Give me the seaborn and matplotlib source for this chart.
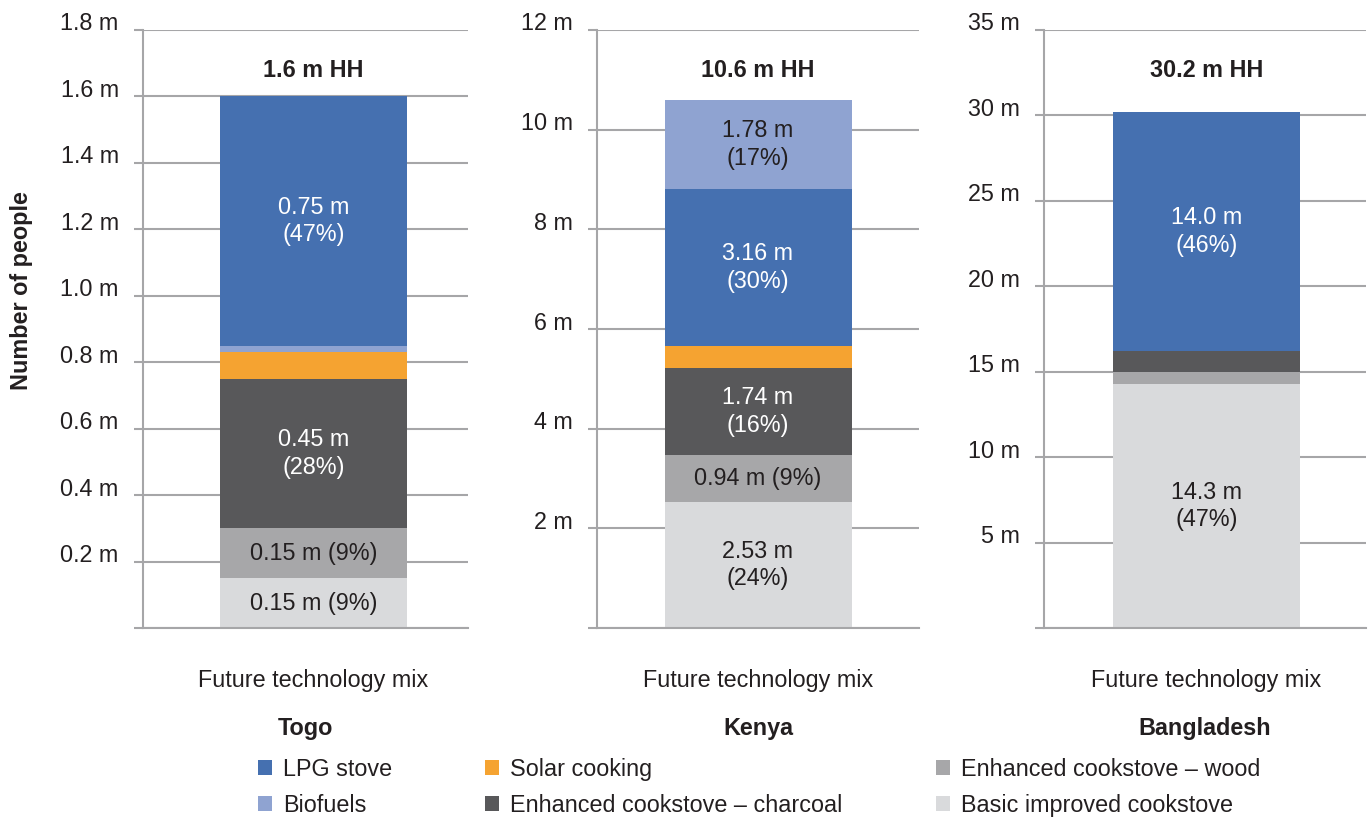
import numpy as np
import pandas as pd
import seaborn as sns
import matplotlib.pyplot as plt
from matplotlib.patches import Patch
from matplotlib.transforms import ScaledTranslation, blended_transform_factory

# ---- data -----------------------------------------------------------------
countries = ["Togo", "Kenya", "Bangladesh"]
scenario = "Future technology mix"

# segments listed bottom -> top of each stack (millions of households)
togo_stack = ["Basic improved cookstove", "Enhanced cookstove – wood",
              "Enhanced cookstove – charcoal", "Solar cooking", "Biofuels", "LPG stove"]
togo_values = [0.15, 0.15, 0.45, 0.08, 0.02, 0.75]
togo_label_lines = [1, 1, 2, 0, 0, 2]          # 0 = no label, 1 = one line, 2 = two lines

kenya_stack = ["Basic improved cookstove", "Enhanced cookstove – wood",
               "Enhanced cookstove – charcoal", "Solar cooking", "LPG stove", "Biofuels"]
kenya_values = [2.53, 0.94, 1.74, 0.44, 3.16, 1.78]
kenya_label_lines = [2, 1, 2, 0, 2, 2]

bangladesh_stack = ["Basic improved cookstove", "Enhanced cookstove – wood",
                    "Enhanced cookstove – charcoal", "LPG stove"]
bangladesh_values = [14.3, 0.7, 1.2, 14.0]
bangladesh_label_lines = [2, 0, 0, 2]

value_decimals = [2, 2, 1]

togo_ticks = [0, 0.2, 0.4, 0.6, 0.8, 1.0, 1.2, 1.4, 1.6, 1.8]
kenya_ticks = [0, 2, 4, 6, 8, 10, 12]
bangladesh_ticks = [0, 5, 10, 15, 20, 25, 30, 35]
tick_decimals = [1, 0, 0]

legend_order = ["LPG stove", "Biofuels", "Solar cooking",
                "Enhanced cookstove – charcoal", "Enhanced cookstove – wood",
                "Basic improved cookstove"]

# ---- style ----------------------------------------------------------------
colors = {
    "LPG stove": "#4570b0",
    "Biofuels": "#8fa3d1",
    "Solar cooking": "#f5a331",
    "Enhanced cookstove – charcoal": "#58585a",
    "Enhanced cookstove – wood": "#a7a7a9",
    "Basic improved cookstove": "#d9dadc",
}
white_text = {"LPG stove", "Enhanced cookstove – charcoal"}
ink = "#231f20"
rule = "#a6a6a8"
FS = 16.8

sns.set_style("white")
plt.rcParams["font.family"] = ["Liberation Sans", "DejaVu Sans"]
plt.rcParams["text.color"] = ink

W, H = 1370, 818
fig = plt.figure(figsize=(W / 100, H / 100), dpi=100)

panels = [
    (togo_stack, togo_values, togo_label_lines, togo_ticks, 143, 325, -0.025),
    (kenya_stack, kenya_values, kenya_label_lines, kenya_ticks, 597, 322, 0.0),
    (bangladesh_stack, bangladesh_values, bangladesh_label_lines, bangladesh_ticks, 1044, 322, -0.005),
]
top_px, bottom_px = 30, 628
bar_px = 187

for i, (stack, values, lines, ticks, left_px, width_px, shift) in enumerate(panels):
    ax = fig.add_axes([left_px / W, 1 - bottom_px / H, width_px / W, (bottom_px - top_px) / H])
    total = float(np.sum(values))
    tops = np.cumsum(values)
    bar_w = bar_px / width_px

    # draw cumulative bars from the top segment down so each one shows its own band
    for tech, top in reversed(list(zip(stack, tops))):
        df = pd.DataFrame({"scenario": [scenario], "households": [top]})
        sns.barplot(data=df, x="scenario", y="households", color=colors[tech],
                    saturation=1, width=bar_w, linewidth=0, ax=ax, zorder=2)

    # segment labels
    bottoms = tops - np.array(values)
    for tech, v, b, n in zip(stack, values, bottoms, lines):
        if n == 0:
            continue
        pct = round(100 * v / total)
        val = f"{v:.{value_decimals[i]}f} m"
        txt = f"{val}\n({pct}%)" if n == 2 else f"{val} ({pct}%)"
        ax.text(0, b + v / 2, txt, ha="center", va="center", fontsize=FS,
                color="white" if tech in white_text else ink, zorder=3,
                linespacing=1.25)

    # total households above the stack
    btrans = blended_transform_factory(ax.transData, ax.transAxes)
    ax.text(0, (bottom_px - 70.5) / (bottom_px - top_px), f"{total:.1f} m HH",
            transform=btrans, ha="center", va="center", fontsize=FS,
            fontweight="bold", color=ink)

    # axes
    ax.set_xlim(-0.5 + shift, 0.5 + shift)
    ax.set_ylim(ticks[0], ticks[-1])
    ax.set_yticks(ticks)
    ax.set_yticklabels([""] + [f"{t:.{tick_decimals[i]}f} m" for t in ticks[1:]],
                       fontsize=FS, color=ink)
    ax.set_xticks([0])
    ax.set_xticklabels([""])
    ax.set_xticks([-0.5 + shift, 0.5 + shift], minor=True)
    ax.tick_params(axis="x", which="major", length=0)
    ax.tick_params(axis="x", which="minor", length=7.5, width=1.5, color=rule, direction="out")
    ax.tick_params(axis="y", length=6.5, width=1.5, color=rule, pad=11, direction="out", left=True)
    # value labels sit slightly above their gridlines
    lift = ScaledTranslation(0, 6 / 100, fig.dpi_scale_trans)
    for tk in ax.yaxis.get_major_ticks():
        tk.label1.set_verticalalignment("center")
        tk.label1.set_transform(tk.label1.get_transform() + lift)
    ax.set_xlabel("")
    ax.set_ylabel("")
    ax.yaxis.grid(True, color=rule, linewidth=1.5, zorder=0)
    ax.xaxis.grid(False)
    ax.set_axisbelow(True)
    for side in ("top", "right"):
        ax.spines[side].set_visible(False)
    for side in ("left", "bottom"):
        ax.spines[side].set_color(rule)
        ax.spines[side].set_linewidth(1.5)

    # scenario and country names under the axis
    ax.text(0, (bottom_px - 681) / (bottom_px - top_px), scenario, transform=btrans,
            ha="center", va="center", fontsize=FS, color=ink)
    ax.text(0.5, (bottom_px - 729) / (bottom_px - top_px), countries[i],
            transform=ax.transAxes, ha="center", va="center", fontsize=FS,
            fontweight="bold", color=ink)

fig.text(22 / W, 1 - 291 / H, "Number of people", rotation=90, ha="center", va="center",
         fontsize=FS, fontweight="bold", color=ink)

handles = [Patch(facecolor=colors[t], edgecolor="none") for t in legend_order]
fig.legend(handles, legend_order, ncol=3, loc="upper left",
           bbox_to_anchor=(258 / W, 1 - 758 / H), frameon=False, fontsize=FS,
           handlelength=0.6, handleheight=0.6, handletextpad=0.47,
           columnspacing=4.0, labelspacing=0.56, borderpad=0, borderaxespad=0)

fig.savefig("out.png", dpi=100)
